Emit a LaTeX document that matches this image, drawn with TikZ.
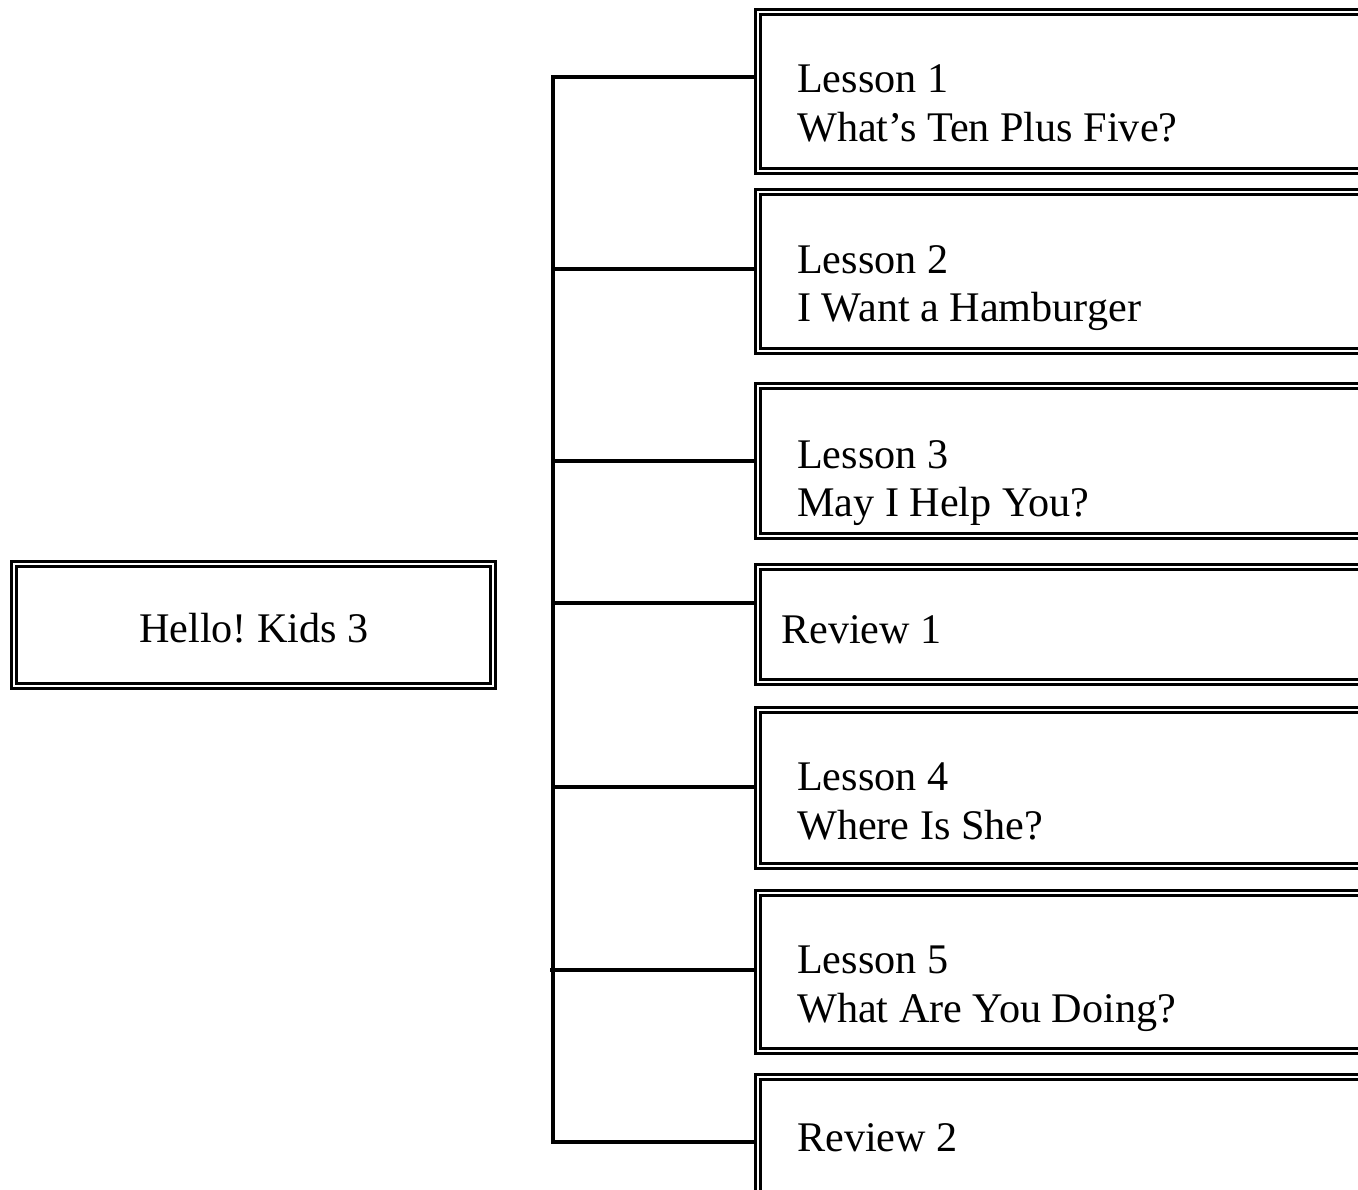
\documentclass[tikz,border=0pt]{standalone}
\usepackage{fontspec}
\setmainfont{Liberation Serif}
\frenchspacing
\begin{document}
\begin{tikzpicture}[x=1pt,y=-1pt,
  dbox/.style={draw=black,line width=3.2pt,double=white,double distance=1.8pt},
  lbl/.style={anchor=base west,inner sep=0pt,font=\fontsize{42.2}{49}\selectfont},
  conn/.style={line width=3.6pt}]
\useasboundingbox (0,0) rectangle (1358,1190);
\clip (0,0) rectangle (1358,1190);
% root
\draw[dbox] (14,564) rectangle (493,686);
\node[anchor=base,inner sep=0pt,font=\fontsize{42.2}{49}\selectfont] (root) at (254,642) {Hello! Kids 3};
% boxes
\draw[dbox] (758,12) rectangle (1380,171);
\draw[dbox] (758,192) rectangle (1380,351);
\draw[dbox] (758,386) rectangle (1380,536);
\draw[dbox] (758,567) rectangle (1380,682);
\draw[dbox] (758,710) rectangle (1380,866);
\draw[dbox] (758,893) rectangle (1380,1051);
\draw[dbox] (758,1077) rectangle (1380,1230);
% box anchors for connectors
\coordinate (b1) at (755,77);
\coordinate (b2) at (755,269);
\coordinate (b3) at (755,461);
\coordinate (b4) at (755,603);
\coordinate (b5) at (755,787);
\coordinate (b6) at (755,970);
\coordinate (b7) at (755,1142);
\coordinate (t1) at (553,77);
\coordinate (t2) at (553,269);
\coordinate (t3) at (553,461);
\coordinate (t4) at (553,603);
\coordinate (t5) at (553,787);
\coordinate (t6) at (550,970);
\coordinate (t7) at (553,1142);
% labels
\node[lbl] (l1a) at (797,93) {Lesson 1};
\node[lbl] (l1b) at (797,142) {What’s Ten Plus Five?};
\node[lbl] (l2a) at (797,274) {Lesson 2};
\node[lbl] (l2b) at (797,322) {I Want a Hamburger};
\node[lbl] (l3a) at (797,468) {Lesson 3};
\node[lbl] (l3b) at (797,516) {May I Help You?};
\node[lbl] (r1) at (781,643) {Review 1};
\node[lbl] (l4a) at (797,790) {Lesson 4};
\node[lbl] (l4b) at (797,839) {Where Is She?};
\node[lbl] (l5a) at (797,973) {Lesson 5};
\node[lbl] (l5b) at (797,1022) {What Are You Doing?};
\node[lbl] (r2) at (797,1151) {Review 2};
% connectors
\draw[conn,line cap=rect] (t1) -- (t7);
\foreach \i in {1,...,7} {\draw[conn] (t\i) -- (b\i);}
\end{tikzpicture}
\end{document}
